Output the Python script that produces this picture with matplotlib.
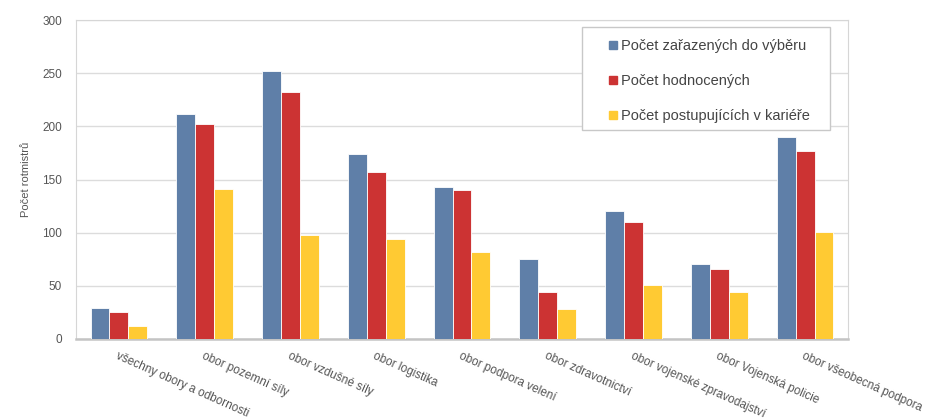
import numpy as np
import matplotlib.pyplot as plt
from matplotlib.patches import Rectangle
from matplotlib.lines import Line2D

plt.rcParams['font.family'] = ['Liberation Sans', 'DejaVu Sans']

# Kategorie a hodnoty
kategorie = ['všechny obory a odbornosti', 'obor pozemní síly', 'obor vzdušné síly',
             'obor logistika', 'obor podpora velení', 'obor zdravotnictví',
             'obor vojenské zpravodajství', 'obor Vojenská policie', 'obor všeobecná podpora']
zarazeni = [29, 212, 252, 174, 143, 75, 120, 71, 190]
hodnoceni = [25, 202, 232, 157, 140, 44, 110, 66, 177]
postupujici = [12, 141, 98, 94, 82, 28, 51, 44, 101]

serie = [('Počet zařazených do výběru', zarazeni, '#5f7fa8'),
         ('Počet hodnocených', hodnoceni, '#cc3333'),
         ('Počet postupujících v kariéře', postupujici, '#ffca33')]

fig = plt.figure(figsize=(9.28, 4.19), dpi=100)
ax = fig.add_axes([0.0819, 0.191, 0.8319, 0.761])

x = np.arange(len(kategorie))
w = 0.22
for i, (nazev, hodnoty, barva) in enumerate(serie):
    ax.bar(x + (i - 1) * w, hodnoty, w, color=barva, label=nazev,
           edgecolor='white', linewidth=0.6, zorder=3)

ax.set_xlim(-0.5, len(kategorie) - 0.5)
ax.set_ylim(0, 300)
ax.set_yticks(range(0, 301, 50))
ax.yaxis.grid(True, color='#dcdcdc', linewidth=1, zorder=0)
ax.set_xticks(x)
ax.set_xticklabels(kategorie, rotation=-24, ha='left', rotation_mode='anchor',
                   fontsize=8.5, color='#555555')
ax.tick_params(axis='both', length=0, pad=8)
ax.tick_params(axis='y', labelsize=8.5, labelcolor='#555555', pad=10)
for s in ['left', 'top', 'right']:
    ax.spines[s].set_color('#d6d6d6')
ax.spines['bottom'].set_color('#c4c4c4')
ax.spines['bottom'].set_linewidth(1.8)
ax.set_ylabel('Počet rotmistrů', fontsize=8, color='#555555', labelpad=8)

# legenda s vlastním rámečkem
ax.add_patch(Rectangle((0.655, 0.655), 0.322, 0.323, transform=ax.transAxes,
                       facecolor='white', edgecolor='#c8c8c8', linewidth=1,
                       zorder=5))
handles = [Line2D([], [], linestyle='none', marker='s', markersize=6,
                  markerfacecolor=b, markeredgecolor=b) for _, _, b in serie]
leg = ax.legend(handles, [s[0] for s in serie], loc='upper left',
                bbox_to_anchor=(0.69, 0.941), fontsize=10.5, frameon=False,
                handlelength=0.6, handletextpad=0.25, labelspacing=1.45,
                borderpad=0.0, borderaxespad=0.0, labelcolor='#444444')
leg.set_zorder(6)

fig.savefig('out.png', dpi=100)
